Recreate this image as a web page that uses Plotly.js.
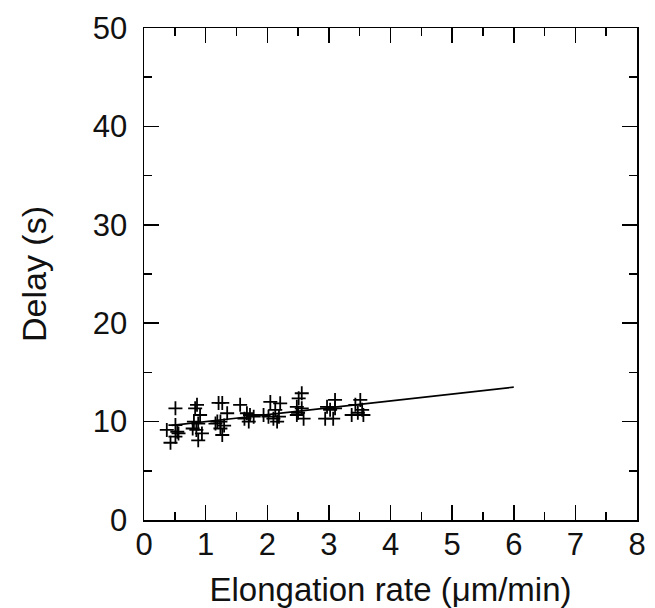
<!DOCTYPE html>
<html><head><meta charset="utf-8">
<script src="https://cdn.plot.ly/plotly-3.0.1.min.js"></script>
<style>body{margin:0;background:#fff}#chart{width:655px;height:608px}</style>
</head><body><div id="chart"></div>
<script>
const rateX = [0.51,0.37,0.43,0.51,0.54,0.51,0.56,
  0.86,0.83,0.91,0.81,0.88,0.85,0.94,0.79,0.88,
  1.21,1.27,1.35,1.24,1.16,1.30,1.24,1.27,1.19,
  1.56,1.67,1.72,1.78,1.63,1.70,1.94,
  2.05,2.21,2.13,2.02,2.10,2.19,2.16,
  2.56,2.51,2.48,2.56,2.48,2.59,2.50,
  3.10,2.97,3.02,3.10,2.94,3.07,
  3.51,3.43,3.54,3.37,3.56,3.47];
const delayY = [11.35,9.15,7.85,9.65,8.97,8.47,8.8,
  11.7,11.35,10.67,10.0,9.8,9.15,8.8,9.3,8.1,
  11.9,11.9,10.85,10.0,9.8,9.6,9.3,8.64,10.0,
  11.7,10.85,10.67,10.5,10.3,10.0,10.67,
  12.0,11.86,11.2,10.5,10.3,10.5,10.0,
  12.88,12.37,11.5,11.35,10.67,10.3,10.9,
  12.2,11.5,11.2,11.35,10.3,10.3,
  12.2,11.7,11.2,10.67,10.67,10.9];
const fitX = [0.45, 6.0];
const fitY = [9.62, 13.5];
const xTickVals = [0,1,2,3,4,5,6,7,8];
const yTickVals = [0,10,20,30,40,50];

const FONT = 'Liberation Sans, Arial, sans-serif';
const axisCommon = {
  showline:true, linecolor:'#000', linewidth:1.5, mirror:'ticks',
  ticks:'inside', ticklen:15, tickwidth:1.5, tickcolor:'#000',
  showgrid:false, zeroline:false, automargin:false,
  tickfont:{family:FONT, size:31, color:'#111'},
};
const data = [
  {x:rateX, y:delayY, mode:'markers', type:'scatter',
   marker:{symbol:'cross-thin-open', size:10, line:{color:'#000', width:1.8}, color:'#000'}},
  {x:fitX, y:fitY, mode:'lines', type:'scatter', line:{color:'#000', width:1.6}}
];
const layout = {
  width:655, height:608, showlegend:false,
  paper_bgcolor:'#fff', plot_bgcolor:'#fff',
  margin:{l:144, r:18, t:28, b:88},
  xaxis:Object.assign({}, axisCommon, {
    range:[0,8], tickvals:xTickVals, ticklabelstandoff:-4,
    minor:{dtick:0.5, ticks:'inside', ticklen:8, tickwidth:1.5, tickcolor:'#000'},
    title:{text:'Elongation rate (μm/min)', standoff:18,
      font:{family:FONT, size:33, color:'#111'}}
  }),
  yaxis:Object.assign({}, axisCommon, {
    range:[0,50], tickvals:yTickVals, ticklabelstandoff:9,
    minor:{dtick:5, ticks:'inside', ticklen:8, tickwidth:1.5, tickcolor:'#000'},
    title:{text:'Delay (s)', standoff:36,
      font:{family:FONT, size:34, color:'#111'}}
  })
};
Plotly.newPlot('chart', data, layout, {displayModeBar:false, staticPlot:true});
</script></body></html>
